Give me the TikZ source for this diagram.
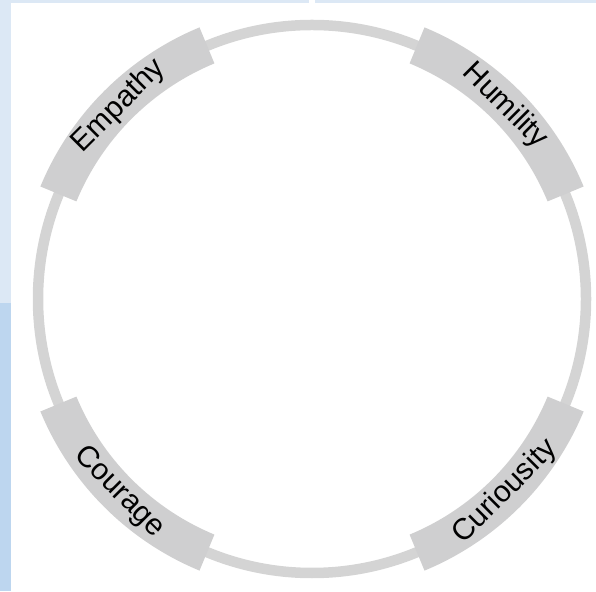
\documentclass[tikz,border=0pt]{standalone}
\usepackage{fontspec}
\setmainfont{Liberation Sans}
\usetikzlibrary{calc}
\definecolor{ringgray}{RGB}{212,212,212}
\definecolor{bandgray}{RGB}{207,207,208}
\definecolor{paleblue}{RGB}{220,232,245}
\definecolor{midblue}{RGB}{189,214,239}
\tikzset{
  ring/.style={draw=ringgray, line width=10.5pt},
  band/.style={fill=bandgray},
  virtue/.style={font=\fontsize{30}{30}\selectfont, text=black, inner sep=0pt}
}

\begin{document}
\begin{tikzpicture}[x=1pt,y=1pt]
\useasboundingbox (0,0) rectangle (596,591);
% page edges behind the figure
\fill[paleblue] (0,288) rectangle (11,591);
\fill[midblue] (0,0) rectangle (11,288);
\fill[paleblue] (0,588) rectangle (309,591);
\fill[paleblue] (315,588) rectangle (596,591);
\coordinate (c) at (312,292);
\draw[ring] (c) circle[radius=274pt];
\foreach \a/\nm/\txt/\rot in {135/emp/Empathy/45, 45/hum/Humility/-45, 225/cou/Courage/-45, 315/cur/Curiousity/45} {
  \fill[band, shift={(c)}] (\a-22.5:255pt) arc[start angle=\a-22.5, end angle=\a+22.5, radius=255pt]
    -- (\a+22.5:294pt) arc[start angle=\a+22.5, end angle=\a-22.5, radius=294pt] -- cycle;
  \node[virtue, rotate=\rot] (\nm) at ($(c)+(\a:273pt)$) {\txt};
}
\end{tikzpicture}
\end{document}
